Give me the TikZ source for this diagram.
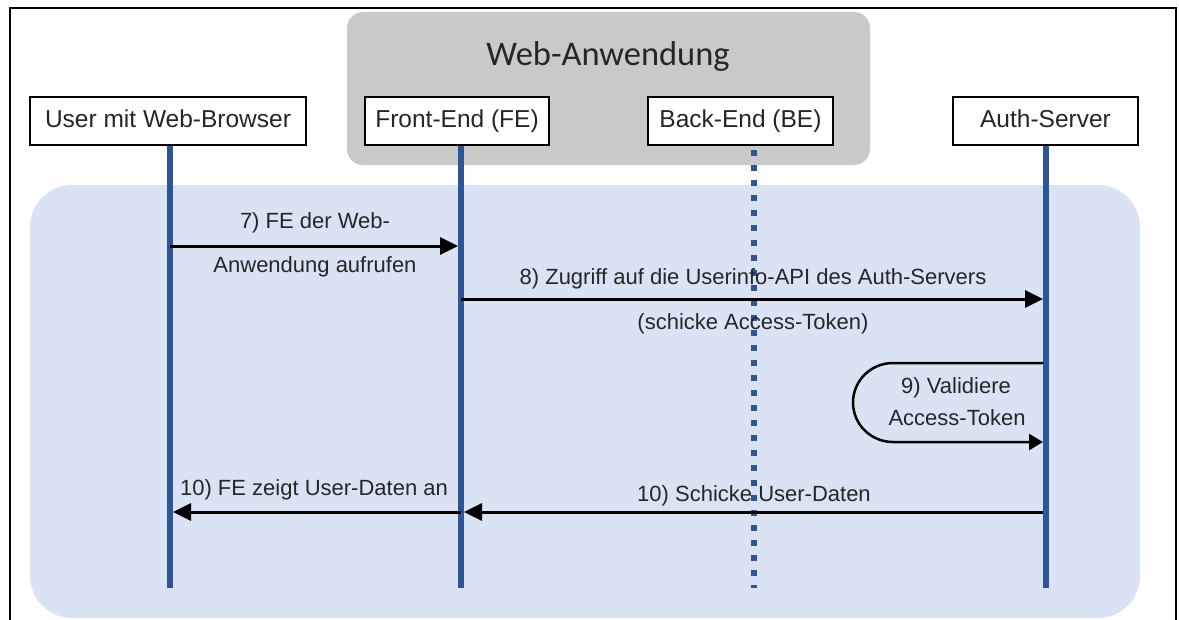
\documentclass[tikz,border=0pt]{standalone}
\usepackage{fontspec}
\setmainfont{Liberation Sans}
\newfontfamily\titlefont{Carlito}
\usetikzlibrary{arrows.meta}
\definecolor{lifeblue}{HTML}{2F5597}
\definecolor{panelblue}{HTML}{DAE3F3}
\definecolor{panelgray}{HTML}{C9C9C9}
\definecolor{ink}{HTML}{262626}

\begin{document}
\begin{tikzpicture}[x=1pt,y=-1pt,
  actor/.style={draw=black, line width=2.5pt, fill=white, minimum height=48pt,
    inner sep=0pt, text height=17.5pt, text depth=4pt,
    font=\fontsize{24.5}{28}\selectfont, text=ink},
  lifeline/.style={draw=lifeblue, line width=6pt},
  dottedlife/.style={draw=lifeblue, line width=6pt, dash pattern=on 6pt off 9pt},
  msg/.style={draw=black, line width=3pt, -{Triangle[length=18pt,width=17pt]}},
  loopmsg/.style={draw=black, line width=2.5pt, -{Triangle[length=14pt,width=16pt]}},
  lbl/.style={font=\fontsize{22}{26}\selectfont, text=ink, inner sep=0pt, anchor=base},
]
\useasboundingbox (0,0) rectangle (1179,619);

% outer frame, open at the bottom
\draw[line width=2.5pt] (10,630) -- (10,8) -- (1176,8) -- (1176,630);

% grouping panels
\fill[panelgray, rounded corners=16pt] (347,12) rectangle (870,165);
\fill[panelblue, rounded corners=42pt] (30,185) rectangle (1140,618);
\node[font=\titlefont\fontsize{34.5}{40}\selectfont, text=ink, anchor=base] (webapp) at (608,65) {Web-Anwendung};

% participants
\node[actor, minimum width=276pt] (user) at (168,121) {User mit Web-Browser};
\node[actor, minimum width=184pt] (fe)   at (457,121) {Front-End (FE)};
\node[actor, minimum width=185pt] (be)   at (740.5,121) {Back-End (BE)};
\node[actor, minimum width=185pt] (auth) at (1045.5,121) {Auth-Server};

% lifeline ends
\coordinate (uTop) at (170,146);   \coordinate (uBot) at (170,588);
\coordinate (fTop) at (461,146);   \coordinate (fBot) at (461,588);
\coordinate (bTop) at (754,150);   \coordinate (bBot) at (754,588);
\coordinate (aTop) at (1046,146);  \coordinate (aBot) at (1046,588);

\draw[lifeline] (uTop) -- (uBot);
\draw[lifeline] (fTop) -- (fBot);
\draw[dottedlife] (bTop) -- (bBot);
\draw[lifeline] (aTop) -- (aBot);

% message anchors on the lifelines
\coordinate (m7a) at (170,246);  \coordinate (m7b) at (458,246);
\coordinate (m8a) at (461,299);  \coordinate (m8b) at (1043,299);
\coordinate (m9a) at (1043,363); \coordinate (m9b) at (1043,442);
\coordinate (m10a) at (1043,512); \coordinate (m10b) at (464,512);
\coordinate (m11a) at (461,512); \coordinate (m11b) at (173,512);

% 7) call the front-end
\draw[msg] (m7a) -- (m7b);
\node[lbl] (l7a) at (315,228) {7) FE der Web-};
\node[lbl] (l7b) at (315,272) {Anwendung aufrufen};

% 8) userinfo request
\draw[msg] (m8a) -- (m8b);
\node[lbl] (l8a) at (753,284) {8) Zugriff auf die Userinfo-API des Auth-Servers};
\node[lbl] (l8b) at (753,329) {(schicke Access-Token)};

% 9) token validation loop
\draw[loopmsg] (m9a) -- (893,363) arc[start angle=90, end angle=270, x radius=40pt, y radius=39.5pt] -- (m9b);
\node[lbl] (l9a) at (956,393) {9) Validiere};
\node[lbl] (l9b) at (957,425) {Access-Token};

% 10) user data back to the front-end and the browser
\draw[msg] (m10a) -- (m10b);
\node[lbl] (l10a) at (754,501) {10) Schicke User-Daten};
\draw[msg] (m11a) -- (m11b);
\node[lbl] (l10b) at (314,495) {10) FE zeigt User-Daten an};
\end{tikzpicture}
\end{document}
